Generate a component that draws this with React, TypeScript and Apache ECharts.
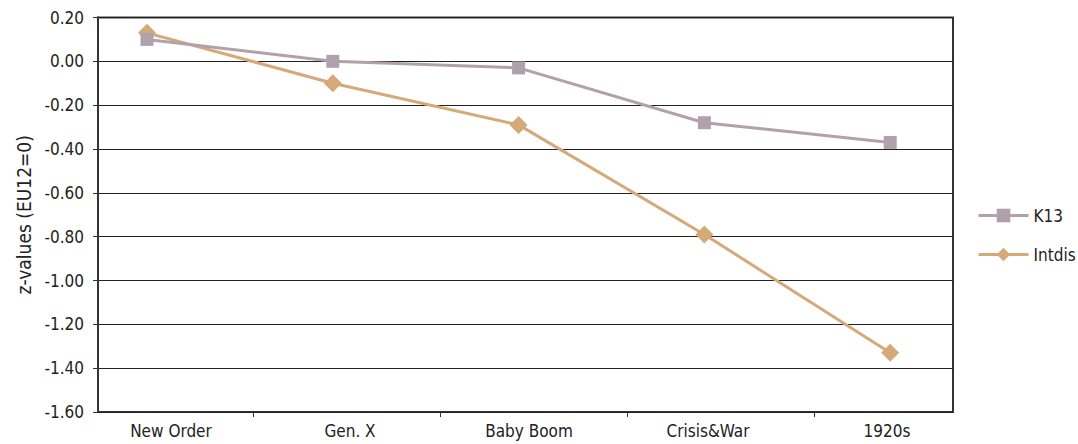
import React, { useEffect, useRef } from "react";
import * as echarts from "echarts";

const categories = ["New Order", "Gen. X", "Baby Boom", "Crisis&War", "1920s"];
const k13Values = [0.1, 0.0, -0.03, -0.28, -0.37];
const intdisValues = [0.13, -0.1, -0.29, -0.79, -1.33];
const yTicks = { min: -1.6, max: 0.2, step: 0.2 };

const FONT = "'DejaVu Sans Condensed', 'DejaVu Sans', sans-serif";
const K13_COLOR = "#B1A1AD";
const INTDIS_COLOR = "#D6A979";

export default function App() {
  const ref = useRef<HTMLDivElement>(null);
  useEffect(() => {
    if (!ref.current) return;
    const chart = echarts.init(ref.current, null, { renderer: "svg" });
    const top = 17.5;
    const bottom = 32;
    chart.setOption({
      animation: false,
      backgroundColor: "#fff",
      textStyle: { fontFamily: FONT },
      grid: [
        { left: 98, right: 125, top, bottom, show: true, borderColor: "#333", borderWidth: 2, backgroundColor: "transparent" },
        { left: 171, right: 191, top, bottom },
        { left: 253, right: 264, top, bottom },
      ],
      xAxis: [
        { type: "value", gridIndex: 0, min: -0.2637, max: 4.338, show: false },
        {
          type: "value", gridIndex: 1, min: 0, max: 4, interval: 1,
          axisLine: { show: false }, axisTick: { show: false }, splitLine: { show: false },
          axisLabel: {
            margin: 10, color: "#222", fontSize: 17, fontFamily: FONT,
            formatter: (v: number) => categories[Math.round(v)] ?? "",
          },
        },
        {
          type: "value", gridIndex: 2, min: 0, max: 3, interval: 1,
          axisLine: { show: false }, splitLine: { show: false },
          axisTick: { show: true, length: 5, lineStyle: { color: "#333", width: 1 } },
          axisLabel: { show: false },
        },
      ],
      yAxis: [
        {
          type: "value", gridIndex: 0, min: yTicks.min, max: yTicks.max, interval: yTicks.step,
          name: "z-values (EU12=0)", nameLocation: "middle", nameRotate: 90, nameGap: 62,
          nameTextStyle: { fontSize: 19, color: "#222", fontFamily: FONT },
          axisLine: { show: true, onZero: false, lineStyle: { color: "#333", width: 2 } },
          axisTick: { show: true, length: 5, lineStyle: { color: "#333", width: 1 } },
          axisLabel: {
            margin: 14, color: "#222", fontSize: 17, fontFamily: FONT,
            formatter: (v: number) => v.toFixed(2),
          },
          splitLine: { show: true, lineStyle: { color: "#222", width: 1 } },
        },
        { type: "value", gridIndex: 1, show: false, min: 0, max: 1 },
        { type: "value", gridIndex: 2, show: false, min: 0, max: 1 },
      ],
      legend: {
        orient: "vertical",
        left: 972,
        top: 202,
        itemWidth: 50,
        itemHeight: 17,
        itemGap: 22,
        data: ["K13", "Intdis"],
        lineStyle: { width: 3 },
        textStyle: { fontSize: 17, color: "#222", fontFamily: FONT, padding: [0, 0, 0, 0] },
      },
      series: [
        {
          name: "Intdis", type: "line", xAxisIndex: 0, yAxisIndex: 0,
          data: intdisValues.map((v, i) => [i, v]),
          symbol: "diamond", symbolSize: [18, 18],
          lineStyle: { color: INTDIS_COLOR, width: 3 },
          itemStyle: { color: INTDIS_COLOR },
          z: 2,
        },
        {
          name: "K13", type: "line", xAxisIndex: 0, yAxisIndex: 0,
          data: k13Values.map((v, i) => [i, v]),
          symbol: "rect", symbolSize: 13,
          lineStyle: { color: K13_COLOR, width: 3 },
          itemStyle: { color: K13_COLOR },
          z: 3,
        },
      ],
    });
    return () => chart.dispose();
  }, []);
  return (
    <div
      ref={ref}
      style={{ position: "fixed", left: 0, top: 0, width: 1078, height: 444, background: "#fff" }}
    />
  );
}
